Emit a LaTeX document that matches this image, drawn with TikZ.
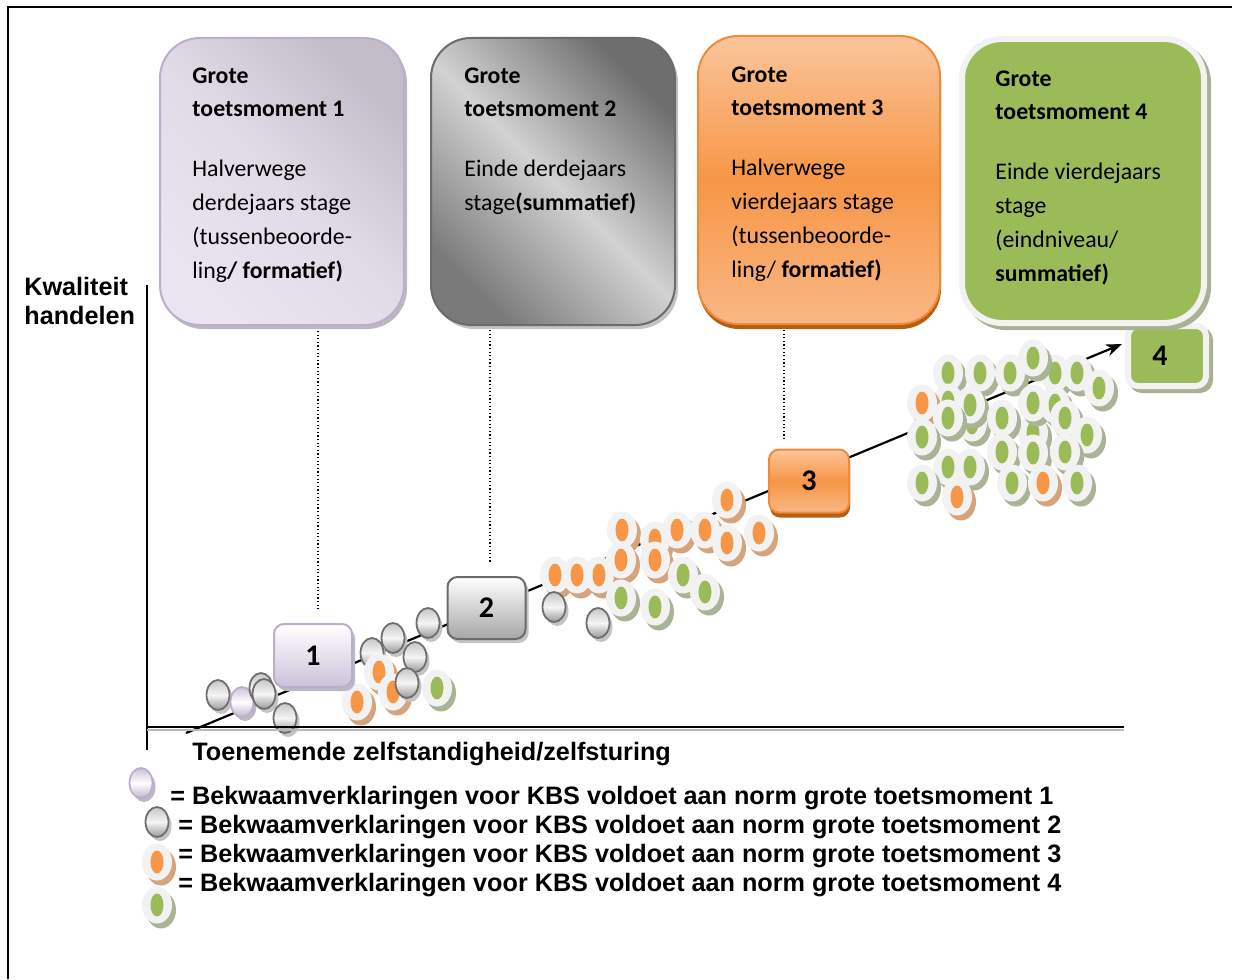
\documentclass[tikz,border=0pt]{standalone}
\usepackage{fontspec}
\setmainfont{Carlito}
\newfontfamily\arialfont{Liberation Sans}
\usetikzlibrary{shadows,arrows.meta}
\definecolor{lavD}{HTML}{BBAECC}
\definecolor{lavTop}{HTML}{C2BDC8}
\definecolor{lavMid}{HTML}{E1DBE8}
\definecolor{lavBot}{HTML}{E9E4F0}
\definecolor{lavSh}{HTML}{BDB7C5}
\definecolor{lavS}{HTML}{CCC1DA}
\definecolor{gryD}{HTML}{6B6B6B}
\definecolor{gryDark}{HTML}{6E6E6E}
\definecolor{gryLight}{HTML}{D2D2D2}
\definecolor{grySh}{HTML}{C4C4C4}
\definecolor{orgD}{HTML}{EE8B3B}
\definecolor{orgTop}{HTML}{FAC59A}
\definecolor{orgMid}{HTML}{F79646}
\definecolor{orgBot}{HTML}{F9B784}
\definecolor{orgSh}{HTML}{B65E12}
\definecolor{grn}{HTML}{9BBB59}
\definecolor{ring}{HTML}{F2F2F2}
\definecolor{grnSh}{HTML}{A7B193}
\definecolor{oSh}{HTML}{D6A47C}
\definecolor{gSh}{HTML}{A9B497}
\newcommand\mkGreen[2]{%
  \fill[gSh] (#1+4,#2+5) ellipse [x radius=15, y radius=18.5];
  \fill[ring] (#1,#2) ellipse [x radius=15, y radius=18.5];
  \fill[grn] (#1,#2) ellipse [x radius=6.5, y radius=11.5];}
\newcommand\mkOrange[2]{%
  \fill[oSh] (#1+4,#2+5) ellipse [x radius=15, y radius=18.5];
  \fill[ring] (#1,#2) ellipse [x radius=15, y radius=18.5];
  \fill[orgMid] (#1,#2) ellipse [x radius=6.5, y radius=11.5];}
\newcommand\mkGray[2]{%
  \fill[grySh] (#1+3,#2+4) ellipse [x radius=11.5, y radius=15];
  \shade[top color=gray!45, bottom color=gray!80, middle color=white!92!gray, draw=gryDark, line width=0.9pt] (#1,#2) ellipse [x radius=11.5, y radius=15];}
\newcommand\mkPurple[2]{%
  \fill[lavSh] (#1+3,#2+4) ellipse [x radius=11.5, y radius=15];
  \shade[top color=lavS, bottom color=lavS!85!gray, middle color=white!97!lavS, draw=lavD, line width=0.9pt] (#1,#2) ellipse [x radius=11.5, y radius=15];}
\begin{document}
\begin{tikzpicture}[x=0.5pt,y=-0.5pt,
  bigtxt/.style={anchor=north west, inner sep=0pt, align=left, font={\fontsize{11.9}{16.9}\selectfont}},
  lbl/.style={anchor=base west, inner sep=0pt, font={\arialfont\bfseries\fontsize{12.6}{14.5}\selectfont}},
  numbox/.style={rounded corners=5pt, inner sep=0pt, minimum width=39pt, minimum height=31.5pt, font={\bfseries\fontsize{15}{18}\selectfont}},
  bigbox/.style={rounded corners=20pt, inner sep=0pt, minimum width=122pt, minimum height=143.5pt},
  conn/.style={line width=0.6pt, dash pattern=on 0.6pt off 1.2pt},
  trend/.style={line width=1.1pt, -{Stealth[length=8pt,width=6pt]}},
]
\useasboundingbox (0,0) rectangle (1234,979);
% frame
\draw[line width=1pt] (8,979) -- (8,7) -- (1232,7);
% trend line
\coordinate (t0) at (186,733);
\coordinate (t1) at (1122,344);
\draw[trend] (t0) -- (t1);
% dots near moment 1
\mkGray{218}{695}
\mkPurple{242}{702}
\mkGray{261}{688}
\mkGray{264}{694}
\mkGray{285}{718}
\mkGray{393}{638}
\mkGray{372}{653}
\mkGray{428}{623}
\mkOrange{357}{702}
\mkOrange{379}{672}
\mkOrange{393}{692}
\mkGray{415}{657}
\mkGray{407}{683}
\mkGreen{437}{688}
% dots near moment 2-3
\mkOrange{622}{530}
\mkOrange{655}{540}
\mkOrange{677}{530}
\mkOrange{705}{530}
\mkOrange{727}{500}
\mkOrange{555}{575}
\mkOrange{577}{575}
\mkOrange{599}{575}
\mkOrange{621}{560}
\mkOrange{655}{560}
\mkOrange{727}{543}
\mkOrange{759}{533}
\mkGreen{683}{575}
\mkGreen{705}{592}
\mkGreen{621}{598}
\mkGreen{655}{607}
\mkGray{554}{607}
\mkGray{598}{623}
% dots near moment 4
\mkGreen{948}{373}
\mkGreen{980}{373}
\mkGreen{1010}{373}
\mkGreen{1055}{373}
\mkGreen{1077}{373}
\mkGreen{1033}{358}
\mkGreen{1099}{388}
\mkGreen{948}{402}
\mkGreen{972}{423}
\mkGreen{1033}{433}
\mkOrange{922}{403}
\mkGreen{970}{405}
\mkGreen{1033}{403}
\mkGreen{1055}{405}
\mkGreen{948}{418}
\mkGreen{922}{437}
\mkGreen{1002}{418}
\mkGreen{1065}{418}
\mkGreen{1087}{435}
\mkGreen{1002}{452}
\mkGreen{1033}{453}
\mkGreen{1065}{452}
\mkGreen{948}{467}
\mkGreen{970}{467}
\mkGreen{922}{483}
\mkGreen{1012}{483}
\mkOrange{1043}{483}
\mkGreen{1077}{483}
\mkOrange{957}{497}
% axes
\draw[line width=0.7pt] (147,750) -- (147,285);
\draw[line width=1pt, gray!55] (147,729.5) -- (1124,729.5);
\draw[line width=1pt] (147,727) -- (1124,727);
% small boxes
\node[numbox, draw=lavD, line width=1pt, top color=white, bottom color=lavS,
  drop shadow={shadow xshift=1.5pt, shadow yshift=-2pt, fill=lavSh, opacity=1}] (S1) at (313,655.5) {1};
\node[numbox, minimum height=31pt, draw=gryD, line width=1pt, top color=white, bottom color=gray!70,
  drop shadow={shadow xshift=1.5pt, shadow yshift=-2pt, fill=grySh, opacity=1}] (S2) at (486.5,608) {2};
\node[numbox, minimum width=40pt, draw=orgD, line width=1pt, top color=orgTop, bottom color=orgBot, middle color=orgMid,
  drop shadow={shadow xshift=0.5pt, shadow yshift=-2.5pt, fill=orgSh, opacity=1}] (S3) at (809,481) {3};
\node[numbox, minimum height=30pt, fill=grn, draw=ring, line width=3pt,
  drop shadow={shadow xshift=2pt, shadow yshift=-2pt, fill=grnSh, draw=grnSh, line width=3pt, opacity=1}] (S4) at (1167,356) {\hspace*{-7pt}\raisebox{-2pt}{4}};
% big boxes
\node[bigbox, draw=lavD, line width=1pt, top color=lavTop, bottom color=lavBot, middle color=lavMid, shading angle=-45,
  drop shadow={shadow xshift=1.5pt, shadow yshift=-2pt, fill=lavSh, opacity=1}] (B1) at (282,181.5) {};
\node[bigbox, draw=gryD, line width=1pt, top color=gryDark, bottom color=gryDark!92!white, middle color=gryLight, shading angle=-45,
  drop shadow={shadow xshift=1.5pt, shadow yshift=-2pt, fill=grySh, opacity=1}] (B2) at (553,181.5) {};
\node[bigbox, minimum width=121pt, minimum height=144pt, draw=orgD, line width=1pt, top color=orgTop, bottom color=orgBot, middle color=orgMid,
  drop shadow={shadow xshift=0.5pt, shadow yshift=-2.5pt, fill=orgSh, opacity=1}] (B3) at (819,180) {};
\node[bigbox, minimum width=121pt, minimum height=142pt, fill=grn, draw=ring, line width=3pt,
  drop shadow={shadow xshift=2pt, shadow yshift=-2pt, fill=grnSh, draw=grnSh, line width=3pt, opacity=1}] (B4) at (1083,181) {};
% dotted connectors
\coordinate (d1) at (318,610);
\coordinate (d2) at (490,562);
\coordinate (d3) at (784,440);
\draw[conn] (B1.south -| d1) ++(0,5) -- (d1);
\draw[conn] (B2.south -| d2) ++(0,4) -- (d2);
\draw[conn] (B3.south -| d3) ++(0,5) -- (d3);
% box texts
\node[bigtxt] (T1) at (192,67) {\textbf{Grote}\\\textbf{toetsmoment 1}\\[13pt]Halverwege\\derdejaars stage\\(tussenbeoorde-\\ling\textbf{/ formatief)}};
\node[bigtxt] (T2) at (464,67) {\textbf{Grote}\\\textbf{toetsmoment 2}\\[13pt]Einde derdejaars\\stage\textbf{(summatief)}};
\node[bigtxt] (T3) at (731,66) {\textbf{Grote}\\\textbf{toetsmoment 3}\\[13pt]Halverwege\\vierdejaars stage\\(tussenbeoorde-\\ling/ \textbf{formatief)}};
\node[bigtxt] (T4) at (995,70) {\textbf{Grote}\\\textbf{toetsmoment 4}\\[13pt]Einde vierdejaars\\stage\\(eindniveau/\\\textbf{summatief)}};
% axis labels
\node[lbl, anchor=north west, align=left] (ylab) at (24,277) {Kwaliteit\\handelen};
\node[lbl] (xlab) at (192,760) {Toenemende zelfstandigheid/zelfsturing};
% legend
\mkPurple{141}{783}
\mkGray{157}{822}
\mkOrange{157}{862}
\mkGreen{157}{905}
\node[lbl] (L1) at (170,804) {= Bekwaamverklaringen voor KBS voldoet aan norm grote toetsmoment 1};
\node[lbl] (L2) at (178,833) {= Bekwaamverklaringen voor KBS voldoet aan norm grote toetsmoment 2};
\node[lbl] (L3) at (178,862) {= Bekwaamverklaringen voor KBS voldoet aan norm grote toetsmoment 3};
\node[lbl] (L4) at (178,891) {= Bekwaamverklaringen voor KBS voldoet aan norm grote toetsmoment 4};
\end{tikzpicture}
\end{document}
